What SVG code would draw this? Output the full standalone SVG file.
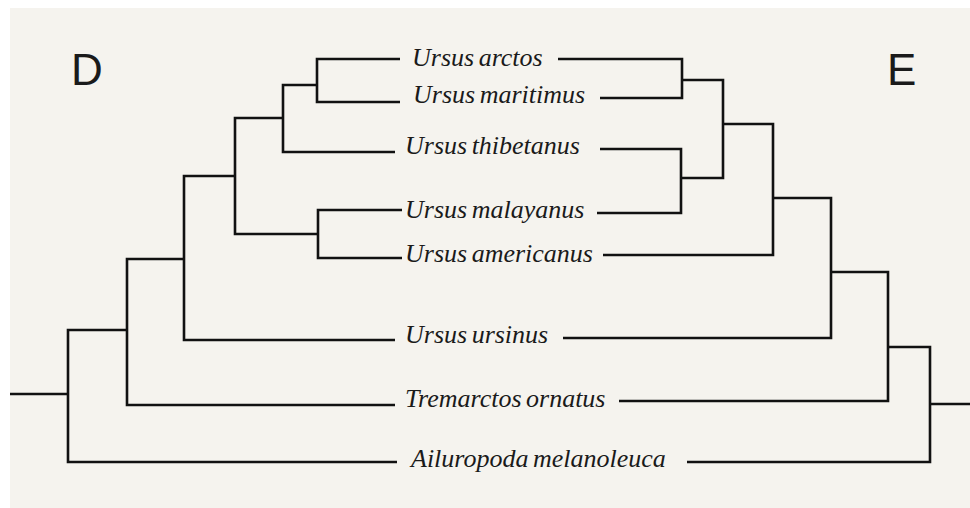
<svg xmlns="http://www.w3.org/2000/svg" width="970" height="508" viewBox="0 0 970 508">
<style>
.bg{fill:#f5f3ee}
.lbl{font-family:'Liberation Serif','DejaVu Serif',serif;font-style:italic;font-size:26px;fill:#1a1a1a;word-spacing:-2px}
.panel{font-family:'Liberation Sans',Arial,sans-serif;font-size:44px;fill:#1a1a1a}
.edge{fill:none;stroke:#111;stroke-width:2.6;stroke-linejoin:miter;stroke-linecap:butt}
</style>
<rect width="970" height="508" fill="#ffffff"/>
<rect class="bg" x="10" y="8" width="960" height="500"/>
<text class="panel" x="71" y="85">D</text>
<text class="panel" x="887" y="85">E</text>
<g id="connectors">
<path class="edge" d="M400,59 H317 V102 H400"/>
<path class="edge" d="M317,85 H283 V152 H395"/>
<path class="edge" d="M402,210 H318 V258 H402"/>
<path class="edge" d="M318,234 H235 V118 H283"/>
<path class="edge" d="M235,176 H184 V340 H395"/>
<path class="edge" d="M184,259 H127 V405 H395"/>
<path class="edge" d="M127,330 H68 V462 H397"/>
<path class="edge" d="M10,394 H68"/>
<path class="edge" d="M558,59 H682 V98 H600"/>
<path class="edge" d="M682,80 H723 V178 H681"/>
<path class="edge" d="M600,149 H681 V213 H597"/>
<path class="edge" d="M723,124 H773 V255 H603"/>
<path class="edge" d="M773,198 H831 V338 H563"/>
<path class="edge" d="M831,272 H888 V401 H619"/>
<path class="edge" d="M888,347 H930 V462 H687"/>
<path class="edge" d="M930,404 H970"/>
</g>
<g id="ursus-arctos"><text class="lbl" font-family="Liberation Serif" x="412" y="66">Ursus arctos</text></g>
<g id="ursus-maritimus"><text class="lbl" font-family="Liberation Serif" x="413" y="103">Ursus maritimus</text></g>
<g id="ursus-thibetanus"><text class="lbl" font-family="Liberation Serif" x="405" y="154">Ursus thibetanus</text></g>
<g id="ursus-malayanus"><text class="lbl" font-family="Liberation Serif" x="405" y="218">Ursus malayanus</text></g>
<g id="ursus-americanus"><text class="lbl" font-family="Liberation Serif" x="405" y="262">Ursus americanus</text></g>
<g id="ursus-ursinus"><text class="lbl" font-family="Liberation Serif" x="405" y="343">Ursus ursinus</text></g>
<g id="tremarctos-ornatus"><text class="lbl" font-family="Liberation Serif" x="405" y="407">Tremarctos ornatus</text></g>
<g id="ailuropoda-melanoleuca"><text class="lbl" font-family="Liberation Serif" x="411" y="467">Ailuropoda melanoleuca</text></g>
</svg>
